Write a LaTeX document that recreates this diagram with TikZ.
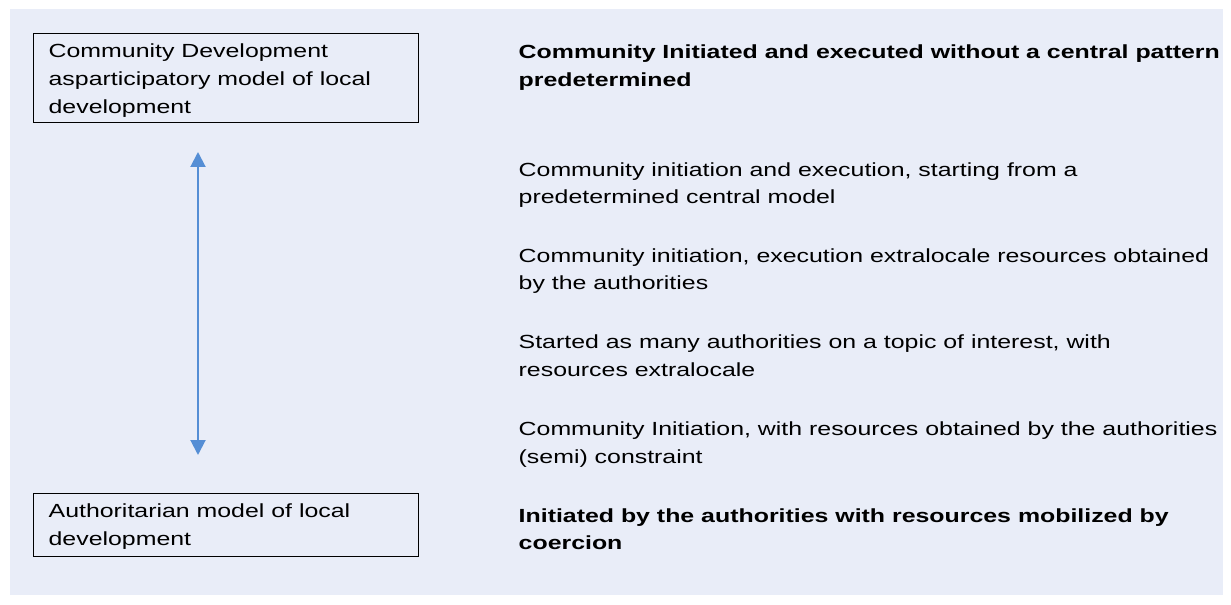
\documentclass[tikz,border=0pt]{standalone}
\usepackage{fontspec}
\setmainfont{Liberation Sans}[FakeStretch=1.31]
\usepackage{tikz}
\usetikzlibrary{arrows.meta,positioning}
\definecolor{panelblue}{RGB}{233,237,248}
\definecolor{arrowblue}{RGB}{85,142,213}

\begin{document}
\begin{tikzpicture}[
  x=1bp, y=-1bp,
  every node/.style={font=\fontsize{19bp}{27.5bp}\selectfont},
  modelbox/.style={draw, line width=1.3bp, anchor=north west, align=flush left, text width=355bp, inner xsep=15bp, inner ysep=0pt, minimum width=385bp,
    font=\fontsize{19bp}{28bp}\selectfont, execute at begin node={\rule{0pt}{24bp}}, execute at end node={\rule[-#1]{0pt}{0pt}}},
  modelbox/.default=9bp,
  level/.style={anchor=base west, align=left, inner sep=0pt},
  strong/.style={level, font=\fontsize{19bp}{27.5bp}\selectfont\bfseries},
  arrow/.style={{Triangle[length=15bp,width=15bp]}-{Triangle[length=15bp,width=15bp]}, line width=2bp, arrowblue}
]
\useasboundingbox (0,0) rectangle (1231,605);
\fill[panelblue] (10,9) rectangle (1223,595);

\node[modelbox=9bp] (participatory) at (33,33) {Community Development\\asparticipatory model of local\\development};
\node[modelbox=11bp] (authoritarian) at (33,493) {Authoritarian model of local\\development};

\node[strong] (r1) at (518.5,86.5) {Community Initiated and executed without a central pattern\\predetermined};
\node[level] (r2) at (518.5,204) {Community initiation and execution, starting from a\\predetermined central model};
\node[level] (r3) at (518.5,290) {Community initiation, execution extralocale resources obtained\\by the authorities};
\node[level] (r4) at (518.5,376) {Started as many authorities on a topic of interest, with\\resources extralocale};
\node[level] (r5) at (518.5,463) {Community Initiation, with resources obtained by the authorities\\(semi) constraint};
\node[strong] (r6) at (518.5,549.5) {Initiated by the authorities with resources mobilized by\\coercion};

\coordinate (uptip) at (198,152);
\coordinate (downtip) at (198,455);
\draw[arrow] (uptip) -- (downtip);
\end{tikzpicture}
\end{document}
